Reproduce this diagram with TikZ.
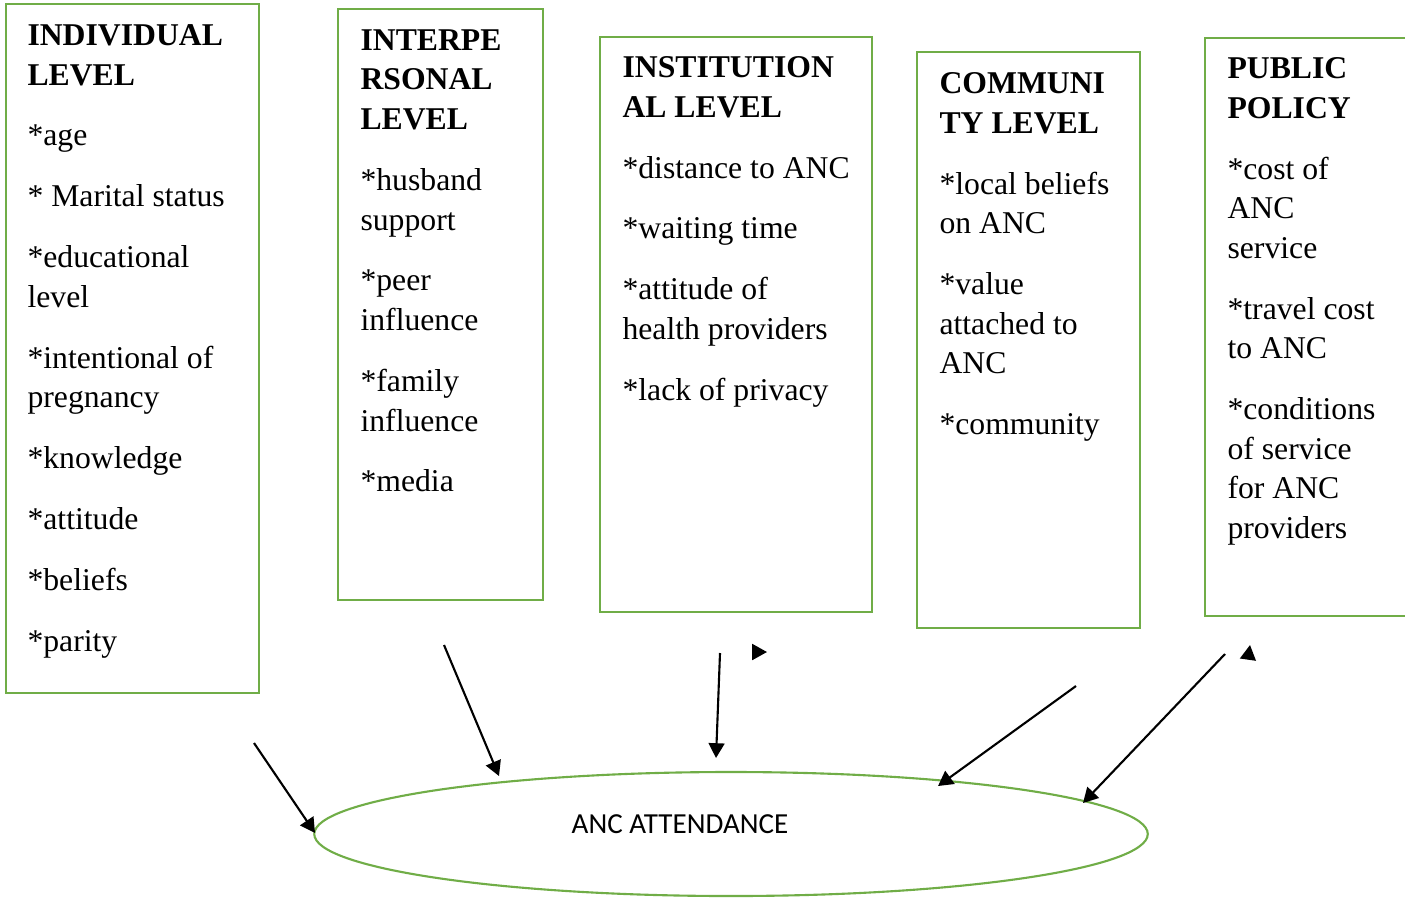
\documentclass[tikz,border=0pt]{standalone}
\usepackage{fontspec}
\setmainfont{Liberation Serif}
\newfontfamily\ancfont{Carlito}
\usetikzlibrary{shapes.geometric,arrows.meta}
\definecolor{levelgreen}{RGB}{112,173,71}
\newcommand{\itemgap}{\\[8.05pt]}

\begin{document}
\begin{tikzpicture}[x=0.0133cm,y=-0.0133cm,level text/.style={anchor=north west,inner sep=0pt,align=left,font=\fontsize{12}{15}\selectfont}]
\tikzstyle{level box} = [draw=levelgreen,line width=1pt]
\tikzstyle{link} = [draw,line width=0.8pt,-{Triangle[length=5.6pt,width=6pt]}]
\tikzstyle{anc oval} = [draw=levelgreen,line width=0.8pt,ellipse,minimum width=11.09cm,minimum height=1.65cm,inner sep=0pt]
\useasboundingbox (0,0) rectangle (1405,897);

\coordinate (indiv1) at (6,4);
\coordinate (indiv2) at (259,693);
\coordinate (inter1) at (338,9);
\coordinate (inter2) at (543,600);
\coordinate (inst1) at (600,37);
\coordinate (inst2) at (872,612);
\coordinate (comm1) at (917,52);
\coordinate (comm2) at (1140,628);
\coordinate (policy1) at (1205,38);
\coordinate (policy2) at (1415,616);

% Draw level boxes
\draw[level box] (indiv1) rectangle (indiv2);
\draw[level box] (inter1) rectangle (inter2);
\draw[level box] (inst1) rectangle (inst2);
\draw[level box] (comm1) rectangle (comm2);
\draw[level box] (policy1) rectangle (policy2);

% Box texts
\node[level text] (indivtext) at (27,24) {\textbf{INDIVIDUAL}\\\textbf{LEVEL}\itemgap
*age\itemgap * Marital status\itemgap *educational\\level\itemgap
*intentional of\\pregnancy\itemgap *knowledge\itemgap *attitude\itemgap
*beliefs\itemgap *parity};
\node[level text] (intertext) at (360,29) {\textbf{INTERPE}\\\textbf{RSONAL}\\\textbf{LEVEL}\itemgap
*husband\\support\itemgap *peer\\influence\itemgap *family\\influence\itemgap *media};
\node[level text] (insttext) at (622,56) {\textbf{INSTITUTION}\\\textbf{AL LEVEL}\itemgap
*distance to ANC\itemgap *waiting time\itemgap *attitude of\\health providers\itemgap
*lack of privacy};
\node[level text] (commtext) at (939,72) {\textbf{COMMUNI}\\\textbf{TY LEVEL}\itemgap
*local beliefs\\on ANC\itemgap *value\\attached to\\ANC\itemgap *community};
\node[level text] (policytext) at (1227,57) {\textbf{PUBLIC}\\\textbf{POLICY}\itemgap
*cost of\\ANC\\service\itemgap *travel cost\\to ANC\itemgap *conditions\\of service\\for ANC\\providers};

% Outcome
\node[anc oval] (anc) at (731,834) {};
\node[font=\ancfont\fontsize{11}{13}\selectfont,inner sep=0pt] (anclabel) at (680,824) {ANC ATTENDANCE};

% Arrows to outcome
\coordinate (a1s) at (254,743);
\coordinate (a1e) at (315,833);
\coordinate (a2s) at (444,645);
\coordinate (a2e) at (499,776);
\coordinate (a3s) at (720,653);
\coordinate (a3e) at (716,758);
\coordinate (a4s) at (1076,686);
\coordinate (a4e) at (938,786);
\coordinate (a5s) at (1225,654);
\coordinate (a5e) at (1083,803);
\draw[link] (a1s) -- (a1e);
\draw[link] (a2s) -- (a2e);
\draw[link] (a3s) -- (a3e);
\draw[link] (a4s) -- (a4e);
\draw[link] (a5s) -- (a5e);

% loose heads
\coordinate (h1s) at (752,652);
\coordinate (h1e) at (767,652);
\coordinate (h2s) at (1248,659);
\coordinate (h2e) at (1250,645);
\draw[link] (h1s) -- (h1e);
\draw[link] (h2s) -- (h2e);

\end{tikzpicture}
\end{document}
